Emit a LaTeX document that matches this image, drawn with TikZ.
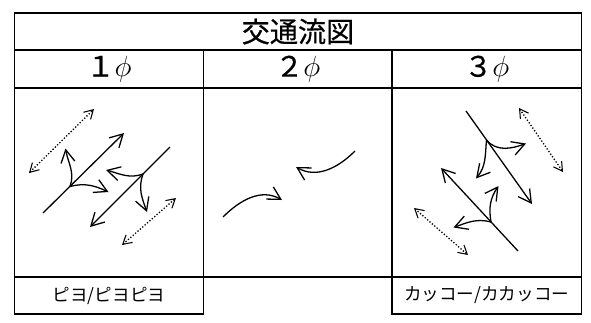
\documentclass[tikz,border=0pt]{standalone}
\usepackage{fontspec}
\newfontfamily\jp{Noto Sans CJK JP}
\newfontfamily\jpheavy[FakeBold=0.5]{Noto Sans CJK JP}
\usetikzlibrary{arrows.meta}
\newcommand{\bigphi}{{\fontsize{30}{30}\selectfont$\phi$}}

\begin{document}
\begin{tikzpicture}[
    x=0.03cm, y=-0.03cm,
    grid/.style = {line width=1.2pt, line cap=rect},
    flow/.style = {line width=1.1pt, -{Straight Barb[length=3.8mm, width=4.2mm, line width=1.1pt]}},
    walk/.style = {line width=1.1pt, dash pattern=on 1.1pt off 1.6pt, {Straight Barb[length=2.6mm, width=3mm, line width=0.9pt]}-{Straight Barb[length=2.6mm, width=3mm, line width=0.9pt]}},
    head/.style = {font=\jpheavy\fontsize{24}{28}\selectfont, inner sep=0pt},
    phase/.style = {font=\jpheavy\fontsize{24}{28}\selectfont, inner sep=0pt},
    note/.style = {font=\jp\fontsize{15}{17}\selectfont, inner sep=0pt}
]
    \useasboundingbox (0,0) rectangle (591,322);

    % 1. Table frame
    \draw [grid] (14.5,13) rectangle (581.5,277);
    \draw [grid] (14.5,50) -- (581.5,50);
    \draw [grid] (14.5,88) -- (581.5,88);
    \draw [grid] (203.5,50) -- (203.5,314);
    \draw [grid] (392,50) -- (392,314);
    \draw [grid] (14.5,277) -- (14.5,314) -- (203.5,314);
    \draw [grid] (392,314) -- (581.5,314) -- (581.5,277);

    % 2. Headings
    \node [head] (title) at (298,31.5) {交通流図};
    \node [phase] (ph1) at (109,69) {１\bigphi};
    \node [phase] (ph2) at (297.75,69) {２\bigphi};
    \node [phase] (ph3) at (486.75,69) {３\bigphi};
    \node [note] (sound1) at (109,295.5) {ピヨ/ピヨピヨ};
    \node [note] (sound3) at (486.75,295.5) {カッコー/カカッコー};

    % 3. Phase 1
    \coordinate (r1s) at (43,213);  \coordinate (r1e) at (124,133);
    \coordinate (r2s) at (170,147); \coordinate (r2e) at (90,227);
    \coordinate (j1) at (70,186.5); \coordinate (j2) at (143,174);
    \draw [flow] (r1s) -- (r1e);
    \draw [flow] (r2s) -- (r2e);
    \draw [flow] (j1) to[out=70, in=-80] (65.5,148.5);
    \draw [flow] (j1) to[out=15, in=155] (108.5,192);
    \draw [flow] (j2) to[out=200, in=-15] (106,170);
    \draw [flow] (j2) to[out=250, in=110] (147,212);
    \coordinate (w1a) at (29,173);  \coordinate (w1b) at (94,109);
    \coordinate (w2a) at (122,245); \coordinate (w2b) at (176,198);
    \draw [walk] (w1a) -- (w1b);
    \draw [walk] (w2a) -- (w2b);

    % 4. Phase 2
    \coordinate (t1s) at (223,217); \coordinate (t1e) at (282,200);
    \coordinate (t2s) at (355,151); \coordinate (t2e) at (296,167);
    \draw [flow] (t1s) to[out=45, in=150] (t1e);
    \draw [flow] (t2s) to[out=225, in=-30] (t2e);

    % 5. Phase 3
    \coordinate (r3s) at (466,111); \coordinate (r3e) at (532,204);
    \coordinate (r4s) at (518,251); \coordinate (r4e) at (441,168);
    \coordinate (j3) at (486.5,140); \coordinate (j4) at (491,222);
    \draw [flow] (r3s) -- (r3e);
    \draw [flow] (r4s) -- (r4e);
    \draw [flow] (j3) to[out=-50, in=200] (526,143.5);
    \draw [flow] (j3) to[out=-95, in=50] (476,178.5);
    \draw [flow] (j4) to[out=100, in=235] (498.5,186);
    \draw [flow] (j4) to[out=165, in=20] (453.5,227.5);
    \coordinate (w3a) at (519,108); \coordinate (w3b) at (563,172);
    \coordinate (w4a) at (414,208); \coordinate (w4b) at (468,255);
    \draw [walk] (w3a) -- (w3b);
    \draw [walk] (w4a) -- (w4b);
\end{tikzpicture}
\end{document}
